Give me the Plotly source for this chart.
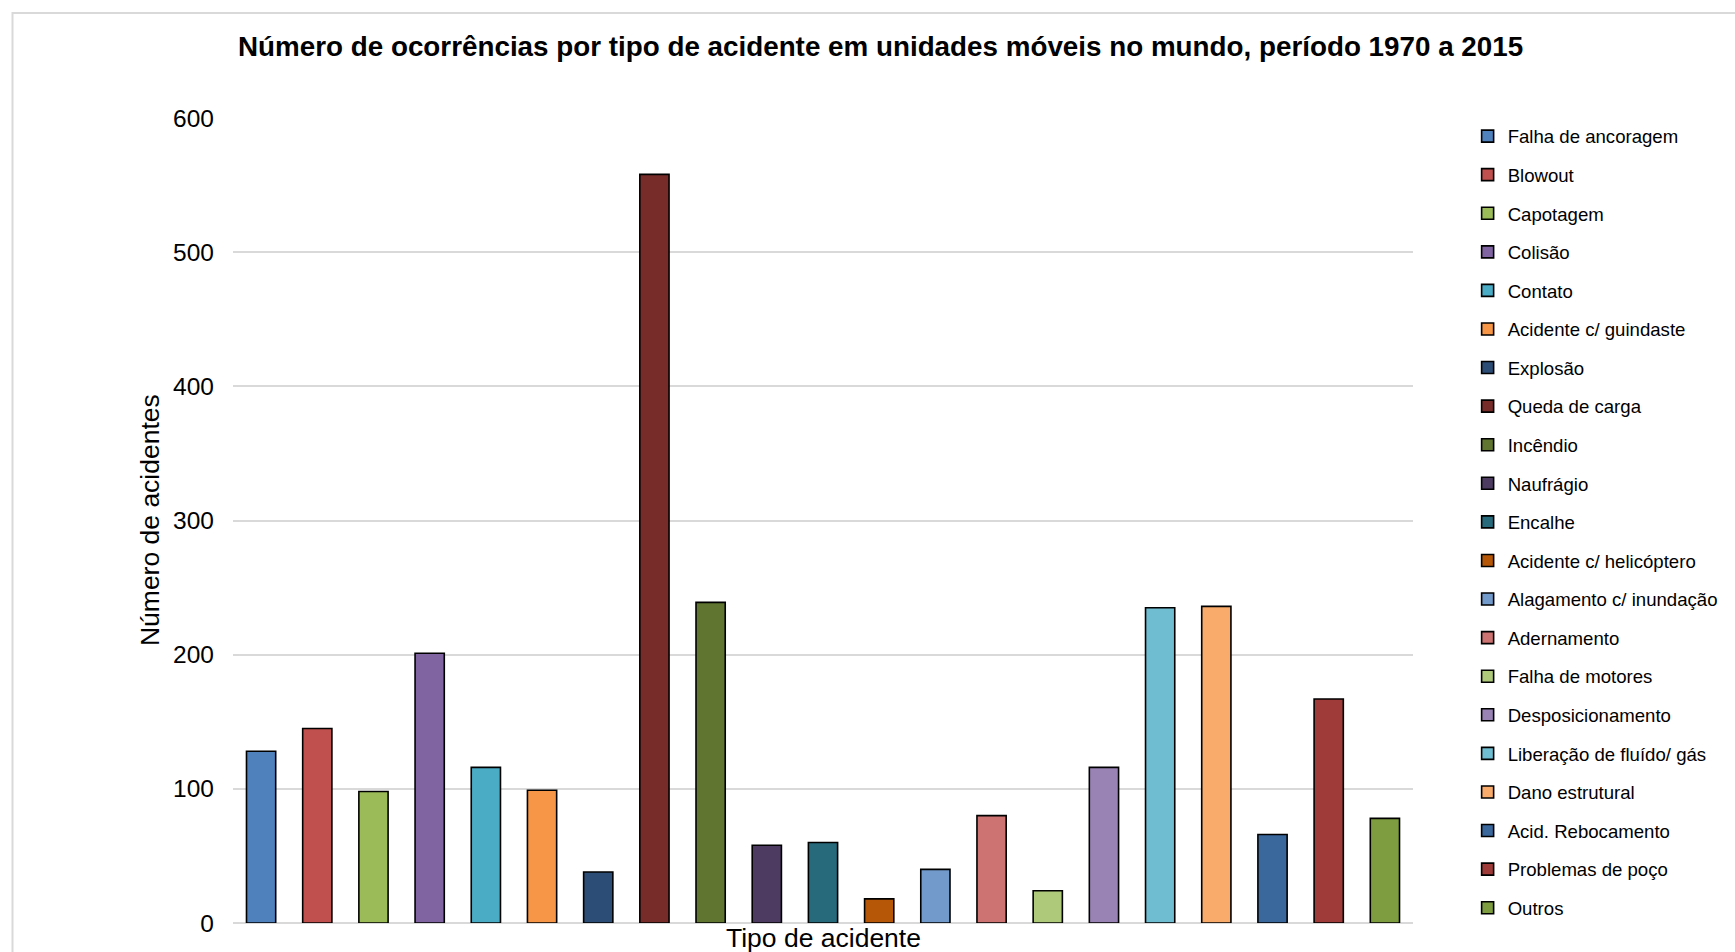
import plotly.graph_objects as go

categories = [
    "Falha de ancoragem", "Blowout", "Capotagem", "Colisão", "Contato",
    "Acidente c/ guindaste", "Explosão", "Queda de carga", "Incêndio",
    "Naufrágio", "Encalhe", "Acidente c/ helicóptero", "Alagamento c/ inundação",
    "Adernamento", "Falha de motores", "Desposicionamento",
    "Liberação de fluído/ gás", "Dano estrutural", "Acid. Rebocamento",
    "Problemas de poço", "Outros",
]
values = [128, 145, 98, 201, 116, 99, 38, 558, 239, 58, 60, 18, 40, 80, 24, 116,
          235, 236, 66, 167, 78]
colors = [
    "#4F81BD", "#C0504D", "#9BBB59", "#8064A2", "#4BACC6", "#F79646",
    "#2C4D75", "#772C2A", "#5F7530", "#4D3B62", "#276A7C", "#B65708",
    "#729ACA", "#CD7371", "#AFC97A", "#9983B5", "#6FBDD1", "#F9AB6B",
    "#3A679C", "#9F3B38", "#7E9D40",
]
y_ticks = [0, 100, 200, 300, 400, 500, 600]

W, H = 1735, 952
L, R, T, B = 233, 314, 118, 29
pw, ph = W - L - R, H - T - B

def px(x):
    return (x - L) / pw

def py(y):
    return (H - B - y) / ph

fig = go.Figure()
for i, (c, v, col) in enumerate(zip(categories, values, colors)):
    fig.add_trace(go.Bar(
        x=[c], y=[v], name=c, width=0.52,
        marker=dict(color=col, line=dict(color="#000000", width=1.6)),
        legendgroup=f"g{i}",
    ))

fig.update_layout(
    width=W, height=H,
    margin=dict(l=L, r=R, t=T, b=B),
    paper_bgcolor="white", plot_bgcolor="white",
    barmode="relative",
    font=dict(family="Liberation Sans, Arial, sans-serif", color="#000000"),
    title=dict(
        text="<b>Número de ocorrências por tipo de acidente em unidades móveis no mundo, período 1970 a 2015</b>",
        x=px(885), xref="paper", xanchor="center",
        y=1 - 46.5 / H, yref="container", yanchor="middle",
        font=dict(size=27.8, color="#000000"),
    ),
    xaxis=dict(
        categoryorder="array", categoryarray=categories,
        showticklabels=False, showgrid=False, zeroline=False,
        showline=False, ticks="", range=[-0.5, len(categories) - 0.5],
    ),
    yaxis=dict(
        range=[0, 600], tickvals=y_ticks, showgrid=True,
        gridcolor="#D9D9D9", gridwidth=1.5, zeroline=True,
        zerolinecolor="#D9D9D9", zerolinewidth=1.5, showline=False,
        ticks="", tickfont=dict(size=24.5, color="#000000"),
        ticklabelstandoff=18,
    ),
    legend=dict(
        x=px(1476), xanchor="left", y=py(117.5), yanchor="top",
        font=dict(size=18.6, color="#000000"),
        tracegroupgap=11.4, bgcolor="rgba(0,0,0,0)",
        maxheight=945,
    ),
    showlegend=True,
    annotations=[
        dict(text="Tipo de acidente", x=px(828), y=py(938), xref="paper", yref="paper",
             xanchor="center", yanchor="middle", showarrow=False,
             font=dict(size=26.5, color="#000000")),
        dict(text="Número de acidentes", x=px(149), y=0.5, xref="paper", yref="paper",
             xanchor="center", yanchor="middle", showarrow=False, textangle=-90,
             font=dict(size=26.5, color="#000000")),
    ],
    shapes=[
        dict(type="rect", xref="paper", yref="paper",
             x0=px(11), x1=px(1760), y0=py(980), y1=py(13),
             line=dict(color="#D9D9D9", width=2), fillcolor="rgba(0,0,0,0)", layer="below"),
    ],
)

fig.write_html("out.html")
